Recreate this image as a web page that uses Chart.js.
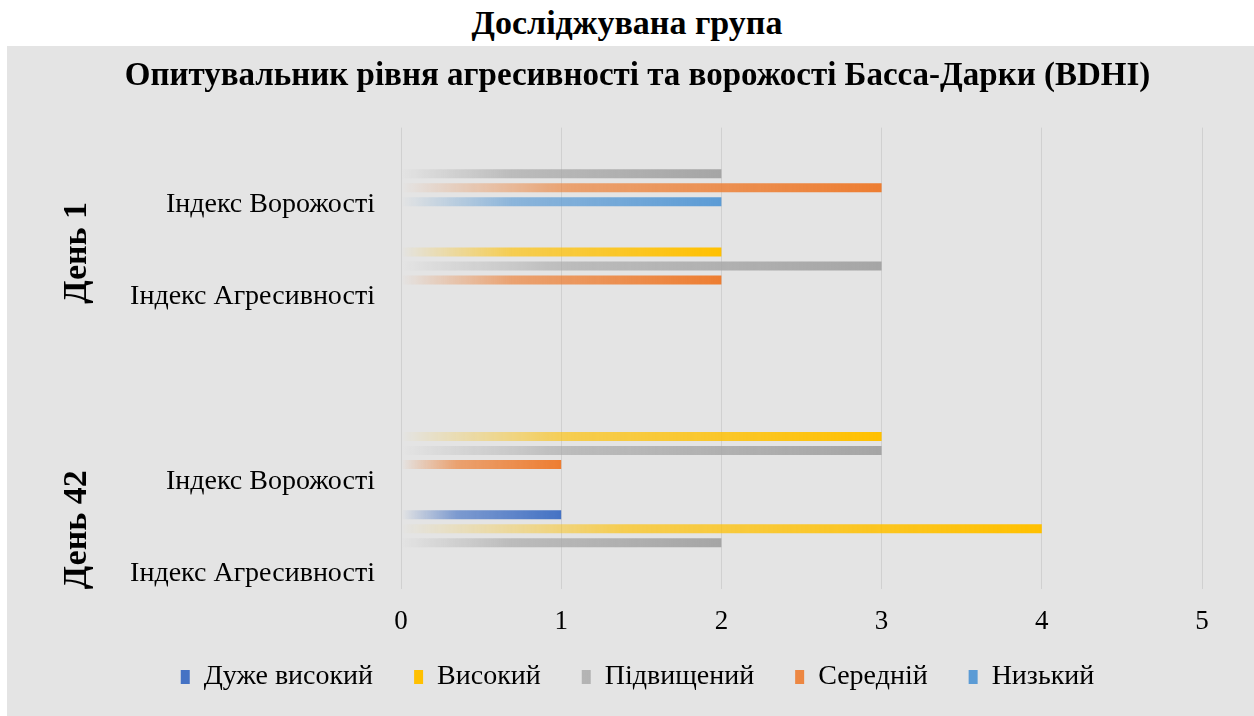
<!DOCTYPE html>
<html>
<head>
<meta charset="utf-8">
<script src="https://cdn.jsdelivr.net/npm/chart.js@4.4.1/dist/chart.umd.min.js"></script>
<style>
    html, body { margin: 0; padding: 0; background: #fff; }
    body { width: 1254px; height: 716px; position: relative; overflow: hidden; }
    #outer-title {
        position: absolute; left: 0; top: 0; width: 1254px; height: 46px;
        display: flex; align-items: center; justify-content: center;
        font: bold 34px 'Liberation Serif', 'Times New Roman', serif; color: #000;
    }
    #panel { position: absolute; left: 7px; top: 46px; width: 1247px; height: 670px; background: #e4e4e4; }
</style>
</head>
<body>
<div id="outer-title">Досліджувана група</div>
<div id="panel"><canvas id="bdhiChart" width="1247" height="670"></canvas></div>
<script>
    // categories top to bottom, empty slot separates the two days
    const categories = ['Індекс Ворожості', 'Індекс Агресивності', '', 'Індекс Ворожості', 'Індекс Агресивності'];
    const groups = [
        { label: 'День 1', from: 0, to: 1 },
        { label: 'День 42', from: 3, to: 4 }
    ];
    const seriesNames = ['Дуже високий', 'Високий', 'Підвищений', 'Середній', 'Низький'];
    const veryHigh = [0, 0, null, 0, 1];
    const high = [0, 2, null, 3, 4];
    const elevated = [2, 3, null, 3, 2];
    const medium = [3, 2, null, 1, 0];
    const low = [2, 0, null, 0, 0];
    const xTicks = [0, 1, 2, 3, 4, 5];

    const seriesColors = ['#4472C4', '#FFC000', '#A5A5A5', '#ED7D31', '#5B9BD5'];
    const fontFamily = "'Liberation Serif', 'Times New Roman', serif";
    const labelShift = 31;

    function hexToRgba(hex, a) {
        const n = parseInt(hex.slice(1), 16);
        return 'rgba(' + (n >> 16) + ',' + ((n >> 8) & 255) + ',' + (n & 255) + ',' + a + ')';
    }

    // bars fade in from the axis towards the full colour at their end
    function fadeFill(color) {
        return function (ctx) {
            if (ctx.type !== 'data' || !ctx.raw) {
                return color;
            }
            const chart = ctx.chart;
            const xScale = chart.scales.x;
            if (!chart.chartArea || !xScale) {
                return color;
            }
            const x0 = xScale.getPixelForValue(0);
            const x1 = xScale.getPixelForValue(ctx.raw);
            if (x1 - x0 < 1) {
                return color;
            }
            const g = chart.ctx.createLinearGradient(x0, 0, x1, 0);
            g.addColorStop(0, hexToRgba(color, 0));
            g.addColorStop(0.35, hexToRgba(color, 0.65));
            g.addColorStop(1, hexToRgba(color, 1));
            return g;
        };
    }

    const seriesData = [veryHigh, high, elevated, medium, low];

    const groupLabels = {
        id: 'groupLabels',
        afterDraw(chart) {
            const yScale = chart.scales.y;
            const c = chart.ctx;
            c.save();
            c.font = 'bold 34px ' + fontFamily;
            c.fillStyle = '#000';
            c.textAlign = 'center';
            c.textBaseline = 'middle';
            groups.forEach(function (grp) {
                const y = (yScale.getPixelForValue(grp.from) + yScale.getPixelForValue(grp.to)) / 2 + labelShift + 2;
                c.save();
                c.translate(70, y);
                c.rotate(-Math.PI / 2);
                c.fillText(grp.label, 0, 0);
                c.restore();
            });
            c.restore();
        }
    };

    new Chart(document.getElementById('bdhiChart').getContext('2d'), {
        type: 'bar',
        data: {
            labels: categories,
            datasets: seriesNames.map(function (name, i) {
                return {
                    label: name,
                    data: seriesData[i],
                    backgroundColor: fadeFill(seriesColors[i]),
                    borderWidth: 0,
                    categoryPercentage: 0.76,
                    barPercentage: 0.64
                };
            })
        },
        options: {
            indexAxis: 'y',
            responsive: false,
            animation: false,
            layout: { padding: { left: 66, right: 52, top: 0, bottom: 15 } },
            plugins: {
                tooltip: { enabled: false },
                title: {
                    display: true,
                    text: 'Опитувальник рівня агресивності та ворожості Басса-Дарки (BDHI)',
                    color: '#000',
                    font: { family: fontFamily, size: 33, weight: 'bold', lineHeight: 1.2 },
                    padding: { top: 11, bottom: 31 }
                },
                legend: {
                    position: 'bottom',
                    labels: {
                        color: '#000',
                        font: { family: fontFamily, size: 28 },
                        boxWidth: 9,
                        boxHeight: 14,
                        padding: 41
                    }
                }
            },
            scales: {
                x: {
                    min: 0,
                    max: 5,
                    afterBuildTicks: function (scale) {
                        scale.ticks = xTicks.map(function (v) { return { value: v }; });
                    },
                    afterFit: function (scale) {
                        // short box so the legend sits close; let the tick labels spill below it
                        scale.height = 33;
                        scale._computeLabelArea = function () { return undefined; };
                    },
                    grid: { color: '#d0d0d0', drawTicks: false },
                    border: { display: false },
                    ticks: { color: '#000', padding: 17, font: { family: fontFamily, size: 27 } }
                },
                y: {
                    afterFit: function (scale) { scale.width = 328; },
                    grid: { display: false, drawTicks: false },
                    border: { display: false },
                    ticks: {
                        color: '#000',
                        padding: 26,
                        labelOffset: labelShift,
                        autoSkip: false,
                        font: { family: fontFamily, size: 28 }
                    }
                }
            }
        },
        plugins: [groupLabels]
    });
</script>
</body>
</html>
